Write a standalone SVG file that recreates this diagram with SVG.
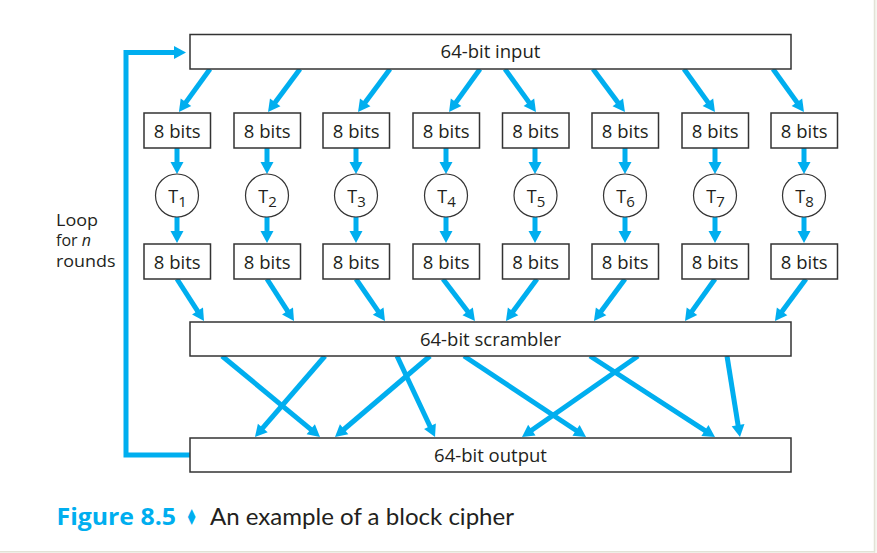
<svg xmlns="http://www.w3.org/2000/svg" width="877" height="553" viewBox="0 0 877 553">
<defs>
<marker id="ah" markerUnits="userSpaceOnUse" markerWidth="16" markerHeight="16" viewBox="0 -8 14 16" refX="2" refY="0" orient="auto">
<path d="M0,-6.5 L12,0 L0,6.5 z" fill="#00AEEF"/>
</marker>
<style>
.box{fill:#fff;stroke:#333;stroke-width:1.5}
.circ{fill:#fff;stroke:#333;stroke-width:1.2}
.lbl{font-family:"Open Sans","Noto Sans",sans-serif;font-size:18.5px;fill:#231f20;text-anchor:middle}
.tl{font-family:"Open Sans","Noto Sans",sans-serif;font-size:18px;fill:#231f20;text-anchor:middle}
.sub{font-size:15px}
.arr{stroke:#00AEEF;stroke-width:5;fill:none;marker-end:url(#ah)}
.loop{stroke:#00AEEF;stroke-width:5;fill:none;stroke-linejoin:miter}
</style>
</defs>
<rect x="0" y="0" width="877" height="553" fill="#fff"/>
<rect x="875" y="0" width="2" height="553" fill="#f6f6f0"/>
<rect x="0" y="552.5" width="877" height="1" fill="#f6f6f0"/>
<line x1="874.5" y1="0" x2="874.5" y2="552.5" stroke="#e2e2d6" stroke-width="1.5"/>
<line x1="0" y1="551.8" x2="875" y2="551.8" stroke="#e2e2d6" stroke-width="1.5"/>

<g id="connectors">
<path class="loop" d="M190,455 L126,455 L126,52.5 L176,52.5" marker-end="url(#ah)"/>
<line class="arr" x1="210" y1="69" x2="184.8" y2="103.9"/>
<line class="arr" x1="300" y1="69" x2="274" y2="104"/>
<line class="arr" x1="390" y1="69" x2="364" y2="104"/>
<line class="arr" x1="480" y1="69" x2="454.9" y2="103.9"/>
<line class="arr" x1="505" y1="69" x2="530.1" y2="103.9"/>
<line class="arr" x1="593" y1="69" x2="619" y2="104"/>
<line class="arr" x1="684" y1="69" x2="709.1" y2="103.9"/>
<line class="arr" x1="773" y1="69" x2="798.1" y2="103.9"/>
<line class="arr" x1="177" y1="148" x2="177" y2="164"/>
<line class="arr" x1="267" y1="148" x2="267" y2="164"/>
<line class="arr" x1="356" y1="148" x2="356" y2="164"/>
<line class="arr" x1="446" y1="148" x2="446" y2="164"/>
<line class="arr" x1="535" y1="148" x2="535" y2="164"/>
<line class="arr" x1="625" y1="148" x2="625" y2="164"/>
<line class="arr" x1="715" y1="148" x2="715" y2="164"/>
<line class="arr" x1="804" y1="148" x2="804" y2="164"/>
<line class="arr" x1="177" y1="217" x2="177" y2="233"/>
<line class="arr" x1="267" y1="217" x2="267" y2="233"/>
<line class="arr" x1="356" y1="217" x2="356" y2="233"/>
<line class="arr" x1="446" y1="217" x2="446" y2="233"/>
<line class="arr" x1="535" y1="217" x2="535" y2="233"/>
<line class="arr" x1="625" y1="217" x2="625" y2="233"/>
<line class="arr" x1="715" y1="217" x2="715" y2="233"/>
<line class="arr" x1="804" y1="217" x2="804" y2="233"/>
<line class="arr" x1="177" y1="279" x2="198.6" y2="312.6"/>
<line class="arr" x1="267" y1="279" x2="288.6" y2="312.6"/>
<line class="arr" x1="356" y1="279" x2="379.3" y2="312.8"/>
<line class="arr" x1="443" y1="279" x2="468.9" y2="313"/>
<line class="arr" x1="537" y1="279" x2="511.9" y2="313"/>
<line class="arr" x1="625" y1="279" x2="599.9" y2="313"/>
<line class="arr" x1="715" y1="279" x2="690.8" y2="312.9"/>
<line class="arr" x1="806" y1="279" x2="780.9" y2="313"/>
<line class="arr" x1="222" y1="356" x2="312.3" y2="430.6"/>
<line class="arr" x1="325" y1="356" x2="261.5" y2="429.4"/>
<line class="arr" x1="397" y1="356" x2="430.8" y2="428"/>
<line class="arr" x1="430" y1="356" x2="342.6" y2="430.5"/>
<line class="arr" x1="464" y1="356" x2="577.7" y2="431.5"/>
<line class="arr" x1="590" y1="356" x2="706.6" y2="431.6"/>
<line class="arr" x1="638" y1="356" x2="530.2" y2="431.3"/>
<line class="arr" x1="727" y1="356" x2="738.4" y2="427.1"/>
</g>

<g id="input"><rect class="box" x="190" y="34.5" width="601" height="34.5"/><text class="lbl" x="490.5" y="58">64-bit input</text></g>

<g id="in1"><rect class="box" x="144" y="113" width="66.5" height="35"/><text class="lbl" x="177.2" y="138">8 bits</text></g>
<g id="in2"><rect class="box" x="234" y="113" width="66.5" height="35"/><text class="lbl" x="267.2" y="138">8 bits</text></g>
<g id="in3"><rect class="box" x="323" y="113" width="66.5" height="35"/><text class="lbl" x="356.2" y="138">8 bits</text></g>
<g id="in4"><rect class="box" x="413" y="113" width="66.5" height="35"/><text class="lbl" x="446.2" y="138">8 bits</text></g>
<g id="in5"><rect class="box" x="502.5" y="113" width="66.5" height="35"/><text class="lbl" x="535.7" y="138">8 bits</text></g>
<g id="in6"><rect class="box" x="592" y="113" width="66.5" height="35"/><text class="lbl" x="625.2" y="138">8 bits</text></g>
<g id="in7"><rect class="box" x="682" y="113" width="66.5" height="35"/><text class="lbl" x="715.2" y="138">8 bits</text></g>
<g id="in8"><rect class="box" x="771" y="113" width="66.5" height="35"/><text class="lbl" x="804.2" y="138">8 bits</text></g>

<g id="t1"><circle class="circ" cx="177" cy="195.5" r="21.5"/><text class="tl" x="177.5" y="203">T<tspan class="sub" dy="4">1</tspan></text></g>
<g id="t2"><circle class="circ" cx="267" cy="195.5" r="21.5"/><text class="tl" x="267.5" y="203">T<tspan class="sub" dy="4">2</tspan></text></g>
<g id="t3"><circle class="circ" cx="356" cy="195.5" r="21.5"/><text class="tl" x="356.5" y="203">T<tspan class="sub" dy="4">3</tspan></text></g>
<g id="t4"><circle class="circ" cx="446" cy="195.5" r="21.5"/><text class="tl" x="446.5" y="203">T<tspan class="sub" dy="4">4</tspan></text></g>
<g id="t5"><circle class="circ" cx="535.5" cy="195.5" r="21.5"/><text class="tl" x="536" y="203">T<tspan class="sub" dy="4">5</tspan></text></g>
<g id="t6"><circle class="circ" cx="625" cy="195.5" r="21.5"/><text class="tl" x="625.5" y="203">T<tspan class="sub" dy="4">6</tspan></text></g>
<g id="t7"><circle class="circ" cx="715" cy="195.5" r="21.5"/><text class="tl" x="715.5" y="203">T<tspan class="sub" dy="4">7</tspan></text></g>
<g id="t8"><circle class="circ" cx="804" cy="195.5" r="21.5"/><text class="tl" x="804.5" y="203">T<tspan class="sub" dy="4">8</tspan></text></g>

<g id="out1"><rect class="box" x="144" y="244" width="66.5" height="35"/><text class="lbl" x="177.2" y="268.5">8 bits</text></g>
<g id="out2"><rect class="box" x="234" y="244" width="66.5" height="35"/><text class="lbl" x="267.2" y="268.5">8 bits</text></g>
<g id="out3"><rect class="box" x="323" y="244" width="66.5" height="35"/><text class="lbl" x="356.2" y="268.5">8 bits</text></g>
<g id="out4"><rect class="box" x="413" y="244" width="66.5" height="35"/><text class="lbl" x="446.2" y="268.5">8 bits</text></g>
<g id="out5"><rect class="box" x="502.5" y="244" width="66.5" height="35"/><text class="lbl" x="535.7" y="268.5">8 bits</text></g>
<g id="out6"><rect class="box" x="592" y="244" width="66.5" height="35"/><text class="lbl" x="625.2" y="268.5">8 bits</text></g>
<g id="out7"><rect class="box" x="682" y="244" width="66.5" height="35"/><text class="lbl" x="715.2" y="268.5">8 bits</text></g>
<g id="out8"><rect class="box" x="771" y="244" width="66.5" height="35"/><text class="lbl" x="804.2" y="268.5">8 bits</text></g>

<g id="scrambler"><rect class="box" x="190" y="322" width="601" height="34"/><text class="lbl" x="490.5" y="345.5">64-bit scrambler</text></g>
<g id="output"><rect class="box" x="190" y="438" width="601" height="34"/><text class="lbl" x="490.5" y="461.5">64-bit output</text></g>

<g id="loop-label" font-family="Open Sans, Noto Sans, sans-serif" font-size="16" fill="#231f20">
<text x="56" y="225.5" textLength="42" lengthAdjust="spacingAndGlyphs">Loop</text>
<text x="56" y="246">for <tspan font-style="italic">n</tspan></text>
<text x="56" y="266.5" textLength="59.5" lengthAdjust="spacingAndGlyphs">rounds</text>
</g>

<g id="caption">
<text x="56.5" y="525" font-family="Open Sans, Noto Sans, sans-serif" font-weight="700" font-size="23" fill="#00AEEF" textLength="119.5" lengthAdjust="spacingAndGlyphs">Figure 8.5</text>
<text transform="translate(191.7,525) scale(0.62,1)" font-family="DejaVu Sans, sans-serif" font-size="22" fill="#00AEEF" text-anchor="middle">♦</text>
<text x="210" y="525" font-family="Lato, Open Sans, sans-serif" font-size="23" fill="#231f20" textLength="304" lengthAdjust="spacingAndGlyphs">An example of a block cipher</text>
</g>
</svg>
